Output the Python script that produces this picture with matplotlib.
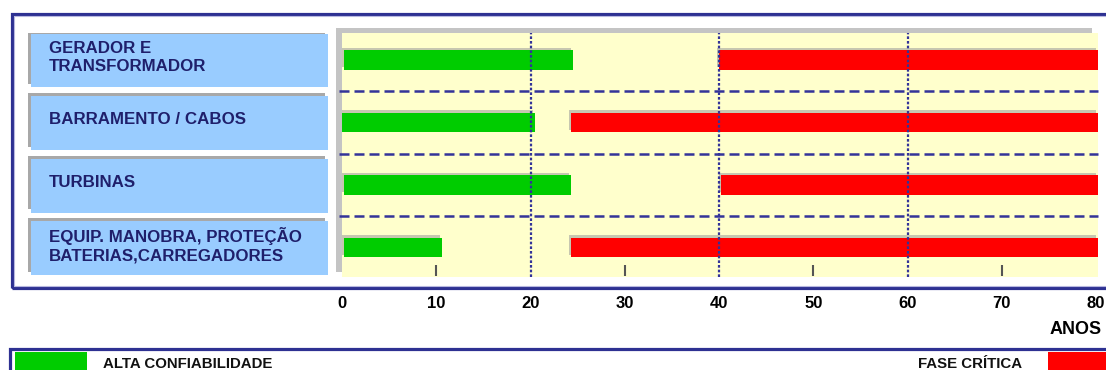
import matplotlib
matplotlib.use("Agg")
import matplotlib.pyplot as plt
from matplotlib.patches import Rectangle
import matplotlib.patheffects as pe

plt.rcParams['font.family'] = ['Liberation Sans', 'DejaVu Sans']

# ---------------- data ----------------
categories = ["GERADOR E\nTRANSFORMADOR", "BARRAMENTO / CABOS", "TURBINAS",
              "EQUIP. MANOBRA, PROTEÇÃO\nBATERIAS,CARREGADORES"]
green_start = [0.2, 0.0, 0.2, 0.2]
green_end = [24.5, 20.5, 24.3, 10.6]
red_start = [40.0, 24.3, 40.2, 24.3]
red_end = [80.2, 80.2, 80.2, 80.2]
x_ticks = [0, 10, 20, 30, 40, 50, 60, 70, 80]
grid_years = [20, 40, 60]
mark_years = [10, 30, 50, 70]
legend_labels = ["ALTA CONFIABILIDADE", "FASE CRÍTICA"]
axis_title = "ANOS"

GREEN = '#00CC00'
RED = '#FF0000'
NAVY = '#2E3192'
DASH = '#333399'
YELLOW = '#FFFFCC'
BLUE = '#99CCFF'
TEXT_NAVY = '#1F1F6B'

W, H = 1106, 370
fig = plt.figure(figsize=(W / 100, H / 100), dpi=100)


def fx(px):
    return px / W


def fy(py):
    return 1 - py / H


def frect(x0, y0, x1, y1, **kw):
    """Rectangle in figure pixel coords (y downward)."""
    r = Rectangle((fx(x0), fy(y1)), fx(x1 - x0), (y1 - y0) / H,
                  transform=fig.transFigure, **kw)
    fig.add_artist(r)
    return r


# ---------------- main plot area ----------------
top, bottom = 33, 277
ax = fig.add_axes([fx(342), fy(bottom), fx(1098 - 342), (bottom - top) / H])
ax.set_xlim(0, 80.2)
ax.set_ylim(3.47, -0.43)
ax.set_facecolor(YELLOW)
for s in ax.spines.values():
    s.set_visible(False)

# shadow behind yellow area
frect(336, 28, 1092, 272, facecolor='#C4C4C4', edgecolor='none', zorder=-1)

ypos = list(range(len(categories)))
shadow = [pe.withSimplePatchShadow(offset=(-1.5, 1.8), shadow_rgbFace='#9a9a9a', alpha=0.55)]
ax.barh(ypos, [e - s for s, e in zip(green_start, green_end)], left=green_start,
        height=0.31, color=GREEN, path_effects=shadow, zorder=3)
ax.barh(ypos, [e - s for s, e in zip(red_start, red_end)], left=red_start,
        height=0.31, color=RED, path_effects=shadow, zorder=3)

# vertical dotted grid lines
ax.vlines(grid_years, 0, 1, transform=ax.get_xaxis_transform(), colors=DASH,
          linestyles=(0, (1.2, 0.9)), lw=1.6, zorder=4)
# horizontal dashed separators
seps = [i + 0.5 for i in range(len(categories) - 1)]
ax.hlines(seps, -0.35, 80.2, colors=DASH, linestyles=(0, (4, 2)), lw=1.8,
          zorder=4, clip_on=False)
# small tick marks
ax.vlines(mark_years, 0.004, 0.049, transform=ax.get_xaxis_transform(),
          colors='#555555', lw=1.5, zorder=4)

ax.set_xticks(x_ticks)
ax.set_xticklabels([str(t) for t in x_ticks], fontsize=12, fontweight='bold')
ax.tick_params(axis='x', length=0, pad=14)
ax.tick_params(axis='y', left=False, labelleft=False)
for lbl in ax.get_xticklabels():
    lbl.set_clip_on(False)

# ---------------- category label boxes ----------------
lab = fig.add_axes([fx(28), fy(bottom), fx(300), (bottom - top) / H])
lab.set_xlim(0, 1)
lab.set_ylim(3.47, -0.43)
lab.axis('off')
for i, name in enumerate(categories):
    lab.add_patch(Rectangle((0.0, i - 0.47), 0.99, 0.86, facecolor='#A8A8A8',
                            edgecolor='none', zorder=1))
    lab.add_patch(Rectangle((0.01, i - 0.42), 0.99, 0.86, facecolor=BLUE,
                            edgecolor='none', zorder=2))
    lab.text(0.07, i - 0.04, name, ha='left', va='center', fontsize=12.2,
             fontweight='bold', color=TEXT_NAVY, linespacing=1.3, zorder=3)

# ---------------- frames ----------------
frect(11.5, 13.5, 1120, 288, facecolor='none', edgecolor=NAVY, lw=2.3, zorder=5)
frect(14, 16, 1120, 285.5, facecolor='none', edgecolor='#B8B8E0', lw=0.8, zorder=5)

fig.text(fx(1050), fy(329), axis_title, ha='left', va='center', fontsize=13,
         fontweight='bold', color='black')

# ---------------- legend strip ----------------
frect(9.5, 349, 1120, 385, facecolor='none', edgecolor=NAVY, lw=2.3, zorder=5)
frect(15, 352, 87, 372, facecolor=GREEN, edgecolor='none', zorder=4)
frect(1048, 352, 1112, 372, facecolor=RED, edgecolor='none', zorder=4)
fig.text(fx(103), fy(364), legend_labels[0], ha='left', va='center', fontsize=10.8,
         fontweight='bold', color='#111111')
fig.text(fx(1022), fy(364), legend_labels[1], ha='right', va='center', fontsize=10.8,
         fontweight='bold', color='#111111')

fig.savefig('out.png', dpi=100)
